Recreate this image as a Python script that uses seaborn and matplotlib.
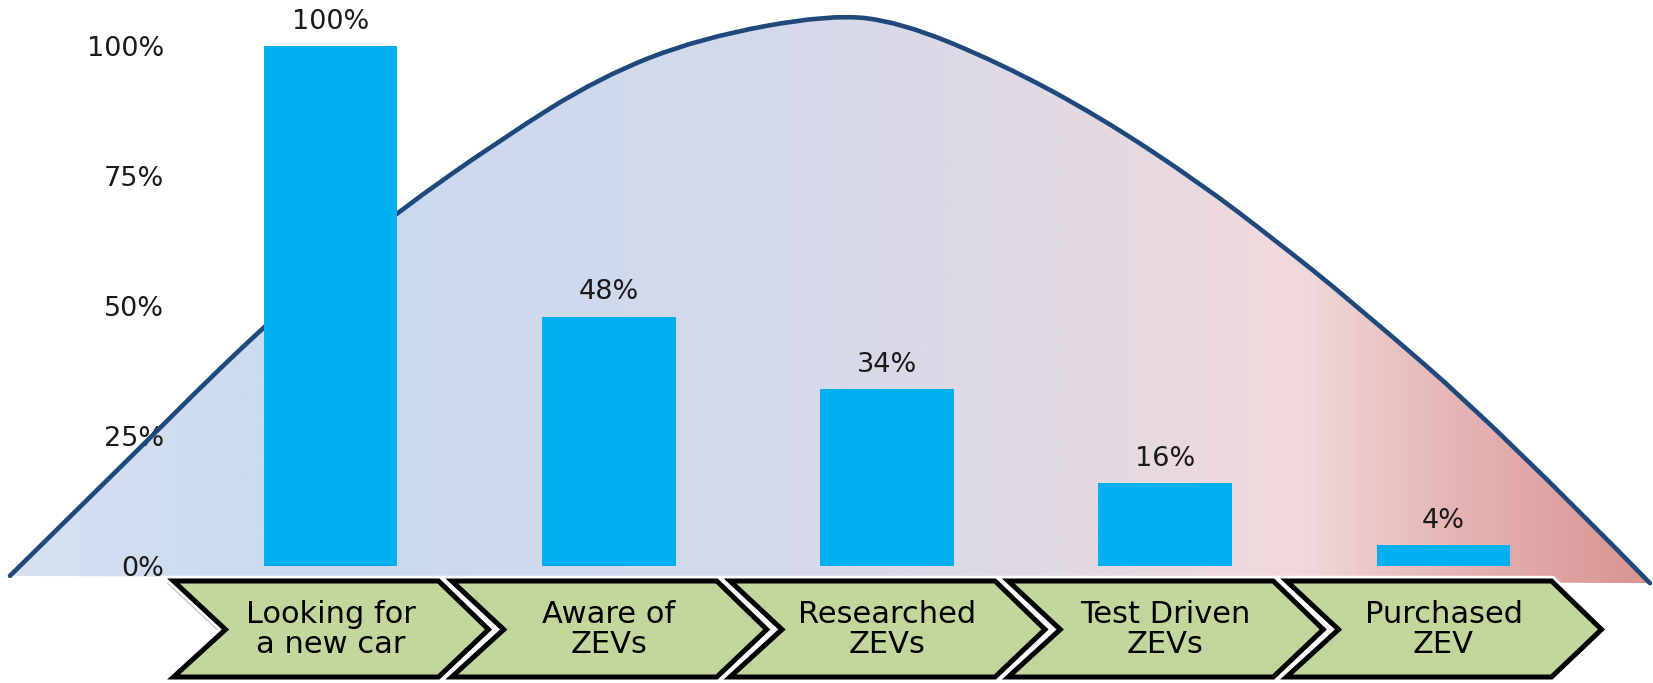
import numpy as np
import matplotlib
matplotlib.use("Agg")
import matplotlib.pyplot as plt
from matplotlib.path import Path
from matplotlib.patches import PathPatch, Polygon
from matplotlib.colors import LinearSegmentedColormap
import matplotlib.patheffects as pe
import seaborn as sns

# ---------------- data ----------------
stages = ["Looking for\na new car", "Aware of\nZEVs", "Researched\nZEVs",
          "Test Driven\nZEVs", "Purchased\nZEV"]
shares = [100, 48, 34, 16, 4]
bar_labels = ["100%", "48%", "34%", "16%", "4%"]
ytick_values = [0, 25, 50, 75, 100]
ytick_labels = ["0%", "25%", "50%", "75%", "100%"]

# decorative hump outline (x in stage units, y in %)
hump_x = [-1.152, -0.649, -0.444, -0.239, 0.000, 0.235, 0.609, 0.969, 1.328,
          1.795, 2.047, 2.406, 2.766, 3.125, 3.395, 3.664, 4.203, 4.742]
hump_y = [-1.9, 24.6, 35.6, 46.0, 57.5, 67.9, 82.0, 94.1, 101.6,
          106.2, 104.7, 96.8, 86.4, 73.7, 62.7, 51.2, 26.2, -3.3]

# ---------------- figure ----------------
sns.set_theme(style="white")
plt.rcParams['font.family'] = ['DejaVu Sans']

W, H = 1653, 683
fig = plt.figure(figsize=(W / 100, H / 100), dpi=100)
fig.patch.set_facecolor("white")

px_left, px_zero, px_hundred = 168, 566, 46.4
ax = fig.add_axes([px_left / W, (H - px_zero) / H, (W - px_left) / W,
                   (px_zero - px_hundred) / H])
ax.set_facecolor("none")

sns.barplot(x=stages, y=shares, color="#00B0F0", saturation=1, width=0.48,
            linewidth=0, ax=ax, zorder=3)

ax.set_ylim(0, 100)
xl = (px_left - 330.5) / 278.25
xr = (W - 330.5) / 278.25
ax.set_xlim(xl, xr)

# ---- hump (gradient fill + outline) ----
pts = list(zip(hump_x, hump_y))
verts = [pts[0]]
codes = [Path.MOVETO]
for i in range(1, len(pts) - 2):
    mid = ((pts[i][0] + pts[i + 1][0]) / 2, (pts[i][1] + pts[i + 1][1]) / 2)
    verts += [pts[i], mid]
    codes += [Path.CURVE3, Path.CURVE3]
verts += [pts[-2], pts[-1]]
codes += [Path.CURVE3, Path.CURVE3]
line_path = Path(verts, codes)
fill_path = Path(verts + [pts[0], pts[0]], codes + [Path.LINETO, Path.CLOSEPOLY])

fill_patch = PathPatch(fill_path, facecolor="none", edgecolor="none",
                       transform=ax.transData, clip_on=False)
ax.add_patch(fill_patch)
cmap = LinearSegmentedColormap.from_list("hump", [
    (0.0, "#d7e1f0"), (0.177, "#c9daf0"), (0.5, "#d6d9e9"),
    (0.665, "#e4d9e2"), (0.787, "#f1dadc"), (0.878, "#e6b6b6"),
    (1.0, "#d99393")])
grad = np.linspace(0, 1, 600)[None, :]
im = ax.imshow(grad, cmap=cmap, aspect="auto", interpolation="bilinear",
               extent=[hump_x[0], hump_x[-1], -4, 110], zorder=1)
im.set_clip_box(fig.bbox)
im.set_clip_path(fill_patch)
ax.add_patch(PathPatch(line_path, facecolor="none", edgecolor="#1f497d",
                       linewidth=3.3, transform=ax.transData, clip_on=False,
                       zorder=2, capstyle="round"))
ax.set_xlim(xl, xr)
ax.set_ylim(0, 100)

# ---- bar labels ----
ax.bar_label(ax.containers[0], labels=bar_labels, padding=8, fontsize=19.5,
             color="#1a1a1a", zorder=4)

# ---- y axis ----
ax.set_yticks(ytick_values)
ax.set_yticklabels(ytick_labels, fontsize=19.5, color="#1a1a1a")
ax.tick_params(axis="y", length=0, pad=3)
ax.yaxis.set_zorder(1.8)
ax.set_xticks([])
ax.set_xlabel("")
ax.set_ylabel("")
for s in ax.spines.values():
    s.set_visible(False)
ax.grid(False)

# ---- chevrons ----
unit_px = 278.25
ypx = lambda p: (px_zero - p) / 5.196
top, mid, bot = ypx(581), ypx(629.5), ypx(677)
for i, label in enumerate(stages):
    left = i - 157 / unit_px
    right = left + 265 / unit_px
    tip = right + 50 / unit_px
    notch = left + 52 / unit_px
    poly = [(left, top), (right, top), (tip, mid), (right, bot),
            (left, bot), (notch, mid)]
    shadow = [(x - 7 / unit_px, y - 0.4) for x, y in poly]
    ax.add_patch(Polygon(shadow, closed=True, facecolor="#8c8c8c",
                         edgecolor="none", alpha=0.55, clip_on=False, zorder=5))
    chev = Polygon(poly, closed=True, facecolor="#c3d69b", edgecolor="black",
                   linewidth=3.6, joinstyle="miter", clip_on=False, zorder=6)
    chev.set_path_effects([pe.Stroke(linewidth=7.5, foreground="white"),
                           pe.Normal()])
    ax.add_patch(chev)
    ax.text(i, mid, label, ha="center", va="center", fontsize=22,
            linespacing=1.08, color="black", zorder=7, clip_on=False)

fig.savefig("out.png", dpi=100, facecolor="white")
